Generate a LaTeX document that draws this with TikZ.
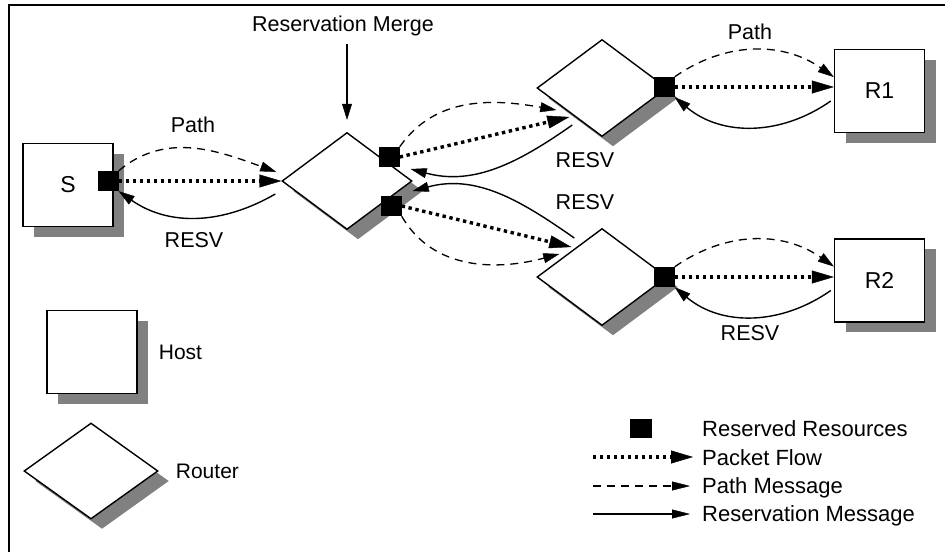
\documentclass[tikz,border=0pt]{standalone}
\usepackage{fontspec}
\setmainfont{Liberation Sans}
\usetikzlibrary{calc,positioning,shapes.geometric,shadows,arrows.meta}
\definecolor{ShadowGray}{HTML}{808080}

\begin{document}
\begin{tikzpicture}[x=1pt, y=1pt,
		host/.style={draw, line width=1.4pt, fill=white, inner sep=0pt,
			minimum width=90pt, minimum height=83pt,
			general shadow={fill=ShadowGray, shadow xshift=11pt, shadow yshift=-10pt},
			font=\fontsize{23}{27}\selectfont},
		router/.style={diamond, draw, line width=1.4pt, fill=white, inner sep=0pt,
			minimum width=130pt, minimum height=97pt,
			general shadow={fill=ShadowGray, shadow xshift=11pt, shadow yshift=-10pt}},
		resv/.style={fill=black, inner sep=0pt, minimum width=21pt, minimum height=20pt},
		lbl/.style={inner sep=0pt, font=\fontsize{21.5}{25}\selectfont},
		key/.style={inner sep=0pt, anchor=base west, font=\fontsize{22}{26}\selectfont},
		flow/.style={line width=3.4pt, dash pattern=on 3.4pt off 3.6pt,
			-{Triangle[length=22pt, width=13pt, line width=0.4pt]}},
		pathmsg/.style={line width=1.3pt, dash pattern=on 8pt off 6pt,
			-{Triangle[length=16pt, width=10pt, line width=0.4pt]}},
		resvmsg/.style={line width=1.4pt,
			-{Triangle[length=16pt, width=10pt, line width=0.4pt]}}
		]
		\useasboundingbox (0,0) rectangle (945,-552);
		\draw[line width=1.3pt] (945,-5) -- (9,-5) -- (9,-552);

		% hosts and routers
		\node[host] (S) at (68,-185) {S};
		\node[router] (M) at (347,-181) {};
		\node[router] (A) at (602,-88) {};
		\node[router] (B) at (602,-277) {};
		\node[host] (R1) at (879.5,-91) {R1};
		\node[host] (R2) at (879.5,-280.5) {R2};

		% reserved resources
		\node[resv] (s0) at (108,-181) {};
		\node[resv] (m1) at (389,-157) {};
		\node[resv] (m2) at (391,-206) {};
		\node[resv] (a1) at (664,-87) {};
		\node[resv] (b1) at (664,-277) {};

		% S -- merge
		\draw[pathmsg] (s0.north east) to[out=40, in=160] ($(M.west)+(-5,9)$);
		\draw[flow] (s0.east) -- (M.west);
		\draw[resvmsg] ($(M.west)+(-6,-13)$) to[out=210, in=-35] (s0.south east);

		% merge -- upper router
		\draw[pathmsg] (m1.north east) to[out=55, in=170] ($(A.west)+(20,-22)$);
		\draw[flow] (m1.east) -- ($(A.west)+(33,-29)$);
		\draw[resvmsg] ($(A.west)+(36,-37)$) to[out=215, in=-15] ($(M.east)+(-2,12)$);

		% merge -- lower router
		\draw[resvmsg] ($(B.west)+(38,39)$) to[out=145, in=15] ($(M.east)+(0,-10)$);
		\draw[flow] (m2.east) -- ($(B.west)+(35,30)$);
		\draw[pathmsg] (m2.south east) to[out=-60, in=195] ($(B.west)+(23,23)$);

		% routers -- receivers
		\draw[pathmsg] (a1.north east) to[out=35, in=145] ($(R1.west)+(0,14)$);
		\draw[flow] (a1.east) -- (a1.east -| R1.west);
		\draw[resvmsg] ($(R1.west)+(-3,-10)$) to[out=215, in=-40] (a1.south east);
		\draw[pathmsg] (b1.north east) to[out=35, in=145] ($(R2.west)+(0,14)$);
		\draw[flow] (b1.east) -- (b1.east -| R2.west);
		\draw[resvmsg] ($(R2.west)+(-3,-10)$) to[out=215, in=-40] (b1.south east);

		% labels
		\node[lbl] (p0) at (193,-125) {Path};
		\node[lbl] (r0) at (194,-240) {RESV};
		\node[lbl] (p1) at (750,-32) {Path};
		\node[lbl] (r1) at (585,-160) {RESV};
		\node[lbl] (r2) at (585,-202) {RESV};
		\node[lbl] (r3) at (750,-333) {RESV};
		\node[lbl, anchor=base] (merge) at (343,-31) {Reservation Merge};
		\draw[resvmsg] ($(merge.south -| M.north)+(0,-8)$) -- ($(M.north)+(0,12)$);

		% legend
		\node[host] (hkey) at (92,-352) {};
		\node[lbl, right=21pt of hkey, font=\fontsize{21}{25}\selectfont] (thost) {Host};
		\node[router, minimum width=134pt, minimum height=96pt] (rkey) at (91,-471) {};
		\node[lbl, right=17pt of rkey, font=\fontsize{21}{25}\selectfont] (trouter) {Router};

		\node[resv, minimum width=22pt, minimum height=19pt] (kres) at (641,-428) {};
		\node[key] (tres) at (702,-436) {Reserved Resources};
		\node[key] (tflow) at (702,-465) {Packet Flow};
		\node[key] (tpath) at (702,-493) {Path Message};
		\node[key] (tresv) at (702,-521) {Reservation Message};
		\coordinate (kflow) at (593,-457);
		\coordinate (kpath) at (593,-486);
		\coordinate (kresv) at (593,-514);
		\draw[flow, shorten >=9pt] (kflow) -- (kflow -| tflow.west);
		\draw[pathmsg, -{Triangle[length=18pt, width=9pt, line width=0.4pt]}, shorten >=12pt] (kpath) -- (kpath -| tpath.west);
		\draw[resvmsg, -{Triangle[length=18pt, width=9pt, line width=0.4pt]}, shorten >=12pt] (kresv) -- (kresv -| tresv.west);
\end{tikzpicture}
\end{document}
